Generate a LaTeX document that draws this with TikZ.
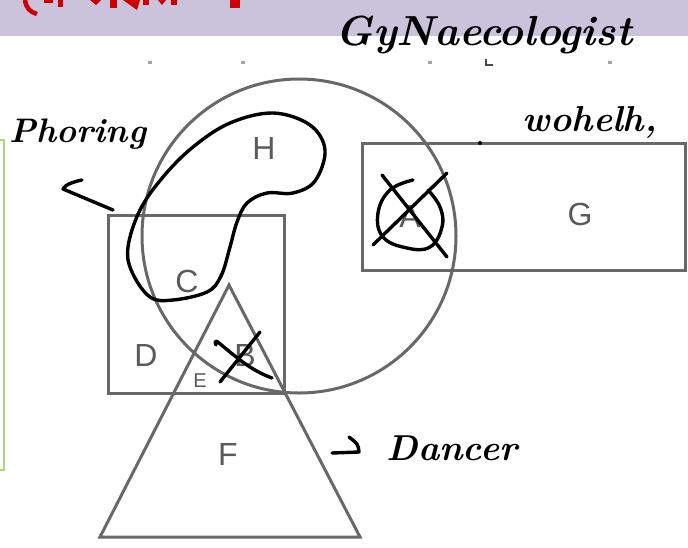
\documentclass[tikz,border=0pt]{standalone}
\usepackage{fontspec}
\setsansfont{Liberation Sans}
\definecolor{lav}{HTML}{CBC3DB}
\definecolor{lineg}{HTML}{686868}
\definecolor{labg}{HTML}{5A5A5A}
\definecolor{titlered}{HTML}{CC0000}
\definecolor{boxgreen}{HTML}{A8D872}
\begin{document}
\begin{tikzpicture}[x=1pt,y=-1pt,
  shp/.style={draw=lineg, line width=3pt, inner sep=0pt, outer sep=0pt},
  lbl/.style={text=labg, font=\sffamily\fontsize{32}{32}\selectfont, inner sep=0pt},
  ink/.style={draw=black, line width=3.4pt, line cap=round, line join=round},
  hand/.style={text=black, inner sep=0pt, font=\itshape\bfseries\fontsize{#1}{#1}\selectfont},
  tick/.style={fill=black!35}]
\useasboundingbox (0,0) rectangle (688,547);
% header band
\fill[lav] (0,0) rectangle (688,36);
% cut-off red title remnants
\begin{scope}[titlered]
\draw[line width=4.5pt] (25,0) .. controls (26,8) and (30,12) .. (37,14);
\fill (44,0) rectangle (53,3);
\fill (58,0) rectangle (63,7);
\fill (90,0) -- (101,0) -- (96,5) -- cycle;
\fill (110,0) rectangle (117,8);
\fill (123,0) -- (140,0) -- (137,10) -- cycle;
\fill (143,0) rectangle (149,5);
\fill (158,0) -- (166,0) -- (162,5) -- cycle;
\fill (171,0) rectangle (177,5);
\fill (230,0) rectangle (240,8);
\end{scope}
% green box edge at left
\draw[boxgreen, line width=1.8pt] (0,140) -- (4,140) -- (4,470) -- (0,470);
% tick marks
\fill[tick] (148,61) rectangle (152,64);
\fill[tick] (241,61) rectangle (245,64);
\fill[tick] (428,61) rectangle (432,64);
\fill[tick] (608,61) rectangle (612,64);
\draw[black!70, line width=1.8pt] (486,59) -- (486,65) -- (493,65);
% main shapes
\node[shp, circle, minimum size=314pt] (circ) at (299,236) {};
\node[shp, rectangle, minimum width=176pt, minimum height=178pt] (sq) at (196,304) {};
\node[shp, rectangle, minimum width=323pt, minimum height=127pt] (rect) at (523.5,206.5) {};
\coordinate (tTop) at (229,285);
\coordinate (tR) at (360,537);
\coordinate (tL) at (100,537);
\draw[shp, line join=miter] (tTop) -- (tR) -- (tL) -- cycle;
% region labels
\node[lbl] (H) at (264,148) {H};
\node[lbl] (G) at (580,214) {G};
\node[lbl] (A) at (410,216) {A};
\node[lbl] (C) at (187,281) {C};
\node[lbl] (D) at (146,355) {D};
\node[lbl] (B) at (245,355) {B};
\node[lbl, font=\sffamily\fontsize{20}{20}\selectfont] (E) at (200,381) {E};
\node[lbl] (F) at (228,454) {F};
% handwriting
\node[hand=42] (gyn) at (484,35) {GyNaecologist};
\node[hand=36] (wor) at (590,122) {wohelh,};
\node[hand=34] (pho) at (78,134) {Phoring};
\node[hand=36] (dan) at (452,448) {Dancer};
% handwritten strokes
\fill (480,143) circle (2);
\coordinate (arrS) at (113,210);
\draw[ink] (82,180) .. controls (72,182) and (65,185) .. (63,189) -- (arrS);
\coordinate (dArr1) at (332,453);
\coordinate (dArr2) at (359,452);
\draw[ink] (dArr1) -- (dArr2) .. controls (358,444) .. (349,437);
% kidney loop round H and C
\draw[ink] plot[smooth cycle, tension=0.6] coordinates {(273,113) (310,125) (325,150) (315,181) (293,193) (267,193) (247,203) (237,222) (230,247) (221,276) (207,292) (173,300) (150,297) (132,272) (128,247) (140,210) (163,177) (193,147) (230,123)};
% crossed-out A
\draw[ink] plot[smooth, tension=0.7] coordinates {(413,180) (390,190) (378,213) (383,237) (407,248) (430,247) (442,227) (440,207) (428,190)};
\draw[ink] (382,175) -- (447,257);
\draw[ink] (447,173) -- (373,245);
% crossed-out B
\draw[ink] (216,345) .. controls (214,341) and (216,340) .. (219,343) .. controls (235,356) and (250,370) .. (272,378);
\draw[ink] (260,332) -- (220,382);
\end{tikzpicture}
\end{document}
